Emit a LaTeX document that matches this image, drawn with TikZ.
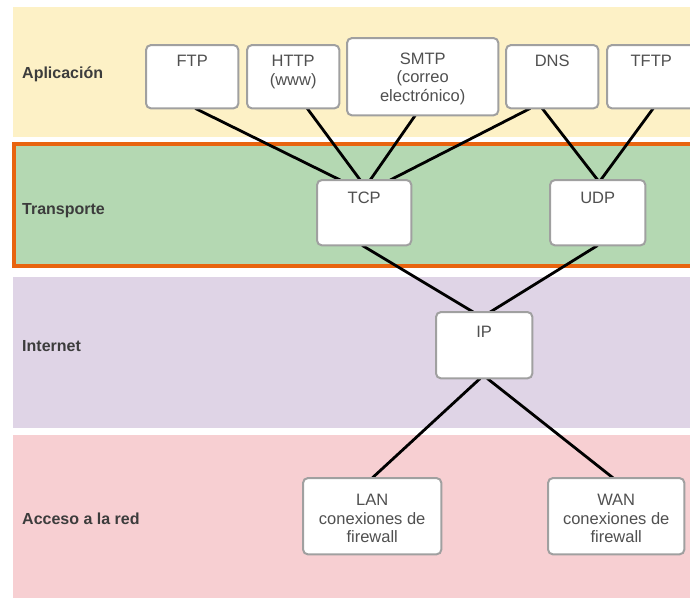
\documentclass[tikz,border=0pt]{standalone}
\usepackage{fontspec}
\setmainfont{Liberation Sans}
\usetikzlibrary{calc}
\definecolor{appY}{HTML}{FDF1C6}
\definecolor{trG}{HTML}{B4D8B2}
\definecolor{inP}{HTML}{DFD4E6}
\definecolor{acR}{HTML}{F7CFD2}
\definecolor{orng}{HTML}{E8640F}
\definecolor{bxline}{HTML}{A0A0A0}
\definecolor{txtg}{HTML}{505050}
\definecolor{lbl}{HTML}{3C3C3C}
\begin{document}
\begin{tikzpicture}[x=1pt,y=-1pt,
  protobox/.style={draw=none, fill=none, inner sep=0pt, anchor=north west},
  boxdraw/.style={draw=bxline, line width=2pt, fill=white, rounded corners=5pt},
  prototext/.style={text=txtg, font=\fontsize{16.5}{18.5}\selectfont, align=center, inner sep=0pt},
  layerlabel/.style={text=lbl, font=\fontsize{16}{18}\selectfont\bfseries, anchor=base west, inner sep=0pt},
  link/.style={line width=2.8pt, black}
]
\useasboundingbox (0,0) rectangle (690,598);
% bands
\fill[appY] (13,7) rectangle (690,137);
\fill[trG] (14,144) rectangle (692,267);
\fill[inP] (13,277) rectangle (690,428);
\fill[acR] (13,435) rectangle (690,598);
\draw[orng, line width=4pt] (14,144) rectangle (696,266);

% layer labels
\node[layerlabel] (lapp) at (22,78.7) {Aplicación};
\node[layerlabel] (ltra) at (22,214.7) {Transporte};
\node[layerlabel] (lint) at (22,351.7) {Internet};
\node[layerlabel] (lacc) at (22,524.7) {Acceso a la red};

% box geometry
\node[protobox, minimum width=92pt, minimum height=63pt] (ftp) at (146,45) {};
\node[protobox, minimum width=92pt, minimum height=63pt] (http) at (247,45) {};
\node[protobox, minimum width=151pt, minimum height=77pt] (smtp) at (347,38) {};
\node[protobox, minimum width=92pt, minimum height=63pt] (dns) at (506,45) {};
\node[protobox, minimum width=92pt, minimum height=63pt] (tftp) at (607,45) {};
\node[protobox, minimum width=94pt, minimum height=65pt] (tcp) at (317,180) {};
\node[protobox, minimum width=95pt, minimum height=65pt] (udp) at (550,180) {};
\node[protobox, minimum width=96pt, minimum height=66pt] (ip) at (436,312) {};
\node[protobox, minimum width=138pt, minimum height=76pt] (lan) at (303,478) {};
\node[protobox, minimum width=136pt, minimum height=76pt] (wan) at (548,478) {};

% connectors
\draw[link] ([xshift=3pt]ftp.south) -- ([xshift=-24pt]tcp.north);
\draw[link] ([xshift=14pt]http.south) -- ([xshift=-4pt]tcp.north);
\draw[link] ([xshift=-7.5pt]smtp.south) -- ([xshift=6pt]tcp.north);
\draw[link] ([xshift=-22pt]dns.south) -- ([xshift=26pt]tcp.north);
\draw[link] ([xshift=-10pt]dns.south) -- (udp.north);
\draw[link] (tftp.south) -- ([xshift=3pt]udp.north);
\draw[link] ([xshift=-2pt]tcp.south) -- ([xshift=-11pt]ip.north);
\draw[link] (udp.south) -- ([xshift=6pt]ip.north);
\draw[link] ([xshift=-4pt]ip.south) -- (lan.north);
\draw[link] ([xshift=3pt]ip.south) -- ([xshift=-3pt]wan.north);

% visible boxes
\foreach \n in {ftp,http,smtp,dns,tftp,tcp,udp,ip,lan,wan}{
  \draw[boxdraw] (\n.north west) rectangle (\n.south east);
}

% box texts
\node[prototext, anchor=base] (tftp1) at ($(ftp.north)+(0,21.75)$) {FTP};
\node[prototext, anchor=north] (thttp) at ($(http.north)+(0,10.3)$) {HTTP\\(www)};
\node[prototext, anchor=north] (tsmtp) at ($(smtp.north)+(0,14.3)$) {SMTP\\(correo\\electrónico)};
\node[prototext, anchor=base] (tdns) at ($(dns.north)+(0,21.75)$) {DNS};
\node[prototext, anchor=base] (ttftp) at ($(tftp.north)+(-2,21.75)$) {TFTP};
\node[prototext, anchor=base] (ttcp) at ($(tcp.north)+(0,23.75)$) {TCP};
\node[prototext, anchor=base] (tudp) at ($(udp.north)+(0,23.75)$) {UDP};
\node[prototext, anchor=base] (tip) at ($(ip.north)+(0,25.75)$) {IP};
\node[prototext, anchor=north] (tlan) at ($(lan.north)+(0,16.3)$) {LAN\\conexiones de\\firewall};
\node[prototext, anchor=north] (twan) at ($(wan.north)+(0,16.3)$) {WAN\\conexiones de\\firewall};
\end{tikzpicture}
\end{document}
